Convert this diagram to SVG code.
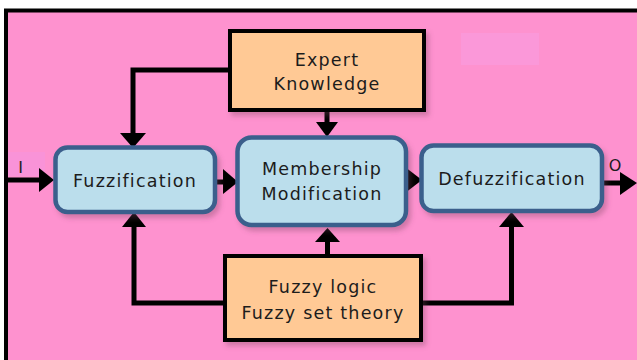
<svg xmlns="http://www.w3.org/2000/svg" width="637" height="360" viewBox="0 0 637 360">
<defs>
<style>
.lbl{font-family:"DejaVu Sans",Verdana,sans-serif;font-size:17.5px;letter-spacing:1.2px;fill:#1c1c1c;text-anchor:middle}
.io{font-family:"DejaVu Sans",Verdana,sans-serif;font-size:16px;fill:#1c1c1c;text-anchor:middle}
.blue{fill:#BBDEEC;stroke:#3B5F8C;stroke-width:4.5}
.peach{fill:#FFC995;stroke:#000;stroke-width:4}
.wire{fill:none;stroke:#000;stroke-width:5;stroke-linejoin:miter}
.head{fill:#000}
</style>
<filter id="sh" x="-10%" y="-10%" width="130%" height="140%">
<feDropShadow dx="3" dy="4" stdDeviation="2.5" flood-color="#7a4060" flood-opacity="0.35"/>
</filter>
</defs>
<rect x="0" y="0" width="637" height="360" fill="#ffffff"/>
<rect x="6" y="10.5" width="700" height="400" fill="#FE92CF" stroke="#000" stroke-width="4"/>
<rect x="461" y="33" width="78" height="32" fill="#FB98D9"/>
<rect x="8" y="152" width="37" height="24" fill="#F993D8"/>

<g id="connectors">
<polyline class="wire" points="230,70 133,70 133,134"/>
<polygon class="head" points="120,133 146,133 133,148"/>
<line class="wire" x1="327" y1="112" x2="327" y2="123"/>
<polygon class="head" points="316,122 338,122 327,137"/>
<line class="wire" x1="8" y1="180" x2="40" y2="180"/>
<polygon class="head" points="39,168 39,192 54,180"/>
<line class="wire" x1="217" y1="182" x2="224" y2="182"/>
<polygon class="head" points="223,169 223,194 238,182"/>
<polygon class="head" points="405,167 405,193 422,180"/>
<line class="wire" x1="604" y1="183" x2="621" y2="183"/>
<polygon class="head" points="620,172 620,195 637,183"/>
<polyline class="wire" points="225,303 134,303 134,226"/>
<polygon class="head" points="122,227 146,227 134,212"/>
<line class="wire" x1="327.5" y1="254" x2="327.5" y2="241"/>
<polygon class="head" points="315,242 340,242 327.5,228"/>
<polyline class="wire" points="421,303 511.5,303 511.5,226"/>
<polygon class="head" points="499,227 524,227 511.5,212"/>
</g>

<g id="label-I"><text class="io" x="20.5" y="173">I</text></g>
<g id="label-O"><text class="io" x="615" y="171">O</text></g>

<g id="expert">
<rect class="peach" x="230" y="31" width="194" height="79" filter="url(#sh)"/>
<text class="lbl" x="327" y="66">Expert</text>
<text class="lbl" x="327" y="90">Knowledge</text>
</g>

<g id="fuzzification">
<rect class="blue" x="55.5" y="147.5" width="159.5" height="64.5" rx="12" filter="url(#sh)"/>
<text class="lbl" x="135" y="187">Fuzzification</text>
</g>

<g id="membership">
<rect class="blue" x="237.5" y="137.5" width="168.5" height="87.5" rx="14" filter="url(#sh)"/>
<text class="lbl" x="322" y="175">Membership</text>
<text class="lbl" x="322" y="200">Modification</text>
</g>

<g id="defuzzification">
<rect class="blue" x="421.5" y="145.5" width="180.5" height="65.5" rx="12" filter="url(#sh)"/>
<text class="lbl" x="512" y="185">Defuzzification</text>
</g>

<g id="fuzzylogic">
<rect class="peach" x="225" y="256" width="196" height="84" filter="url(#sh)"/>
<text class="lbl" x="323" y="293">Fuzzy logic</text>
<text class="lbl" x="323" y="319">Fuzzy set theory</text>
</g>
</svg>
